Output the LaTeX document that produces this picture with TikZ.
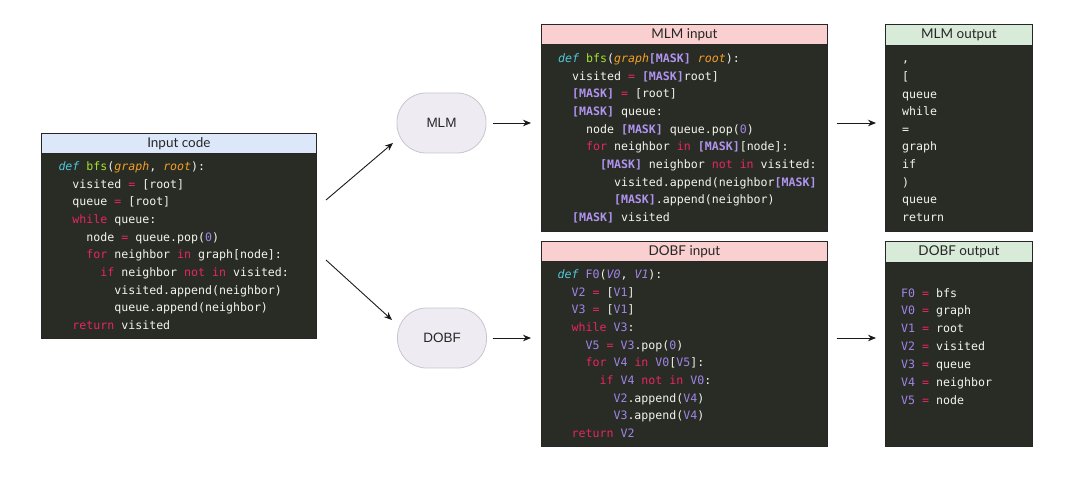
\documentclass[tikz,border=0pt]{standalone}
\usepackage{fontspec}
\setmainfont{Lato}
\setmonofont{DejaVu Sans Mono}
\newfontfamily\ellfont{Liberation Sans}
\usetikzlibrary{arrows.meta}

\definecolor{codebg}{HTML}{282C25}
\definecolor{codefg}{HTML}{F4F4EE}
\definecolor{kwred}{HTML}{E8265E}
\definecolor{fngreen}{HTML}{A6E22E}
\definecolor{argorange}{HTML}{F5A023}
\definecolor{defcyan}{HTML}{4FC8D8}
\definecolor{numpurple}{HTML}{A184E8}
\definecolor{maskpurple}{HTML}{B193F0}
\definecolor{hblue}{HTML}{DCE8FA}
\definecolor{hpink}{HTML}{F9CFCF}
\definecolor{hgreen}{HTML}{D8EAD8}
\definecolor{ellfill}{HTML}{EEEBF2}
\definecolor{elldraw}{HTML}{C9C5CE}

\newcommand{\cK}[1]{\textcolor{kwred}{#1}}
\newcommand{\cD}[1]{\textcolor{defcyan}{\itshape #1}}
\newcommand{\cF}[1]{\textcolor{fngreen}{#1}}
\newcommand{\cA}[1]{\textcolor{argorange}{\itshape #1}}
\newcommand{\cN}[1]{\textcolor{numpurple}{#1}}
\newcommand{\cNi}[1]{\textcolor{numpurple}{\itshape #1}}
\newcommand{\cM}[1]{\textcolor{maskpurple}{\bfseries #1}}

\tikzset{
  panel/.style={draw=black!85, line width=0.8pt, fill=codebg, inner sep=0pt, anchor=north west},
  hdr/.style={draw=black!85, line width=0.8pt, inner sep=0pt, anchor=north west, font=\fontsize{13.5}{14}\selectfont, text=black!85},
  code/.style={anchor=base west, inner sep=0pt, text=codefg, font=\ttfamily\fontsize{11.6}{12}\selectfont},
  model/.style={draw=elldraw, fill=ellfill, line width=0.8pt, rounded corners=29pt, minimum width=89pt, minimum height=60pt, inner sep=0pt, font=\ellfont\fontsize{13.5}{14}\selectfont, text=black!85},
  arr/.style={draw=black!90, line width=0.9pt, -{Stealth[length=8pt,width=6.5pt]}}
}

\begin{document}
\begin{tikzpicture}[x=1pt,y=-1pt]
\useasboundingbox (0,0) rectangle (1074,484);

% ---------- panels ----------
\node[panel, minimum width=275pt, minimum height=205pt] (inp) at (41,133) {};
\node[hdr, fill=hblue, minimum width=275pt, minimum height=20pt] (inph) at (41,133) {Input code};

\node[panel, minimum width=286pt, minimum height=207pt] (mlmin) at (541,24) {};
\node[hdr, fill=hpink, minimum width=286pt, minimum height=20pt] (mlminh) at (541,24) {MLM input};

\node[panel, minimum width=286pt, minimum height=205pt] (dobfin) at (541,241) {};
\node[hdr, fill=hpink, minimum width=286pt, minimum height=20pt] (dobfinh) at (541,241) {DOBF input};

\node[panel, minimum width=147pt, minimum height=207pt] (mlmout) at (885,24) {};
\node[hdr, fill=hgreen, minimum width=147pt, minimum height=21pt] (mlmouth) at (885,24) {MLM output};

\node[panel, minimum width=147pt, minimum height=205pt] (dobfout) at (885,241) {};
\node[hdr, fill=hgreen, minimum width=147pt, minimum height=21pt] (dobfouth) at (885,241) {DOBF output};

% ---------- model nodes ----------
\node[model] (mlm) at (441.5,123) {MLM};
\node[model] (dobf) at (442,338) {DOBF};

% ---------- input code ----------
\def\cw{6.98}
\node[code] (i0) at ({58.3+0*\cw},170.5) {\cD{def} \cF{bfs}(\cA{graph}, \cA{root}):};
\node[code] (i1) at ({58.3+2*\cw},188.2) {visited \cK{=} [root]};
\node[code] (i2) at ({58.3+2*\cw},205.8) {queue \cK{=} [root]};
\node[code] (i3) at ({58.3+2*\cw},223.5) {\cK{while} queue:};
\node[code] (i4) at ({58.3+4*\cw},241.2) {node \cK{=} queue.pop(\cN{0})};
\node[code] (i5) at ({58.3+4*\cw},258.8) {\cK{for} neighbor \cK{in} graph[node]:};
\node[code] (i6) at ({58.3+6*\cw},276.5) {\cK{if} neighbor \cK{not} \cK{in} visited:};
\node[code] (i7) at ({58.3+8*\cw},294.2) {visited.append(neighbor)};
\node[code] (i8) at ({58.3+8*\cw},311.8) {queue.append(neighbor)};
\node[code] (i9) at ({58.3+2*\cw},329.5) {\cK{return} visited};

% ---------- MLM input ----------
\node[code] (m0) at ({558+0*\cw},62.5) {\cD{def} \cF{bfs}(\cA{graph}\cM{[MASK]} \cA{root}):};
\node[code] (m1) at ({558+2*\cw},80.2) {visited \cK{=} \cM{[MASK]}root]};
\node[code] (m2) at ({558+2*\cw},97.8) {\cM{[MASK]} \cK{=} [root]};
\node[code] (m3) at ({558+2*\cw},115.5) {\cM{[MASK]} queue:};
\node[code] (m4) at ({558+4*\cw},133.2) {node \cM{[MASK]} queue.pop(\cN{0})};
\node[code] (m5) at ({558+4*\cw},150.8) {\cK{for} neighbor \cK{in} \cM{[MASK]}[node]:};
\node[code] (m6) at ({558+6*\cw},168.5) {\cM{[MASK]} neighbor \cK{not} \cK{in} visited:};
\node[code] (m7) at ({558+8*\cw},186.2) {visited.append(neighbor\cM{[MASK]}};
\node[code] (m8) at ({558+8*\cw},203.8) {\cM{[MASK]}.append(neighbor)};
\node[code] (m9) at ({558+2*\cw},221.5) {\cM{[MASK]} visited};

% ---------- DOBF input ----------
\node[code] (d0) at ({557.5+0*\cw},278.5) {\cD{def} \cN{F0}(\cNi{V0}, \cNi{V1}):};
\node[code] (d1) at ({557.5+2*\cw},296.2) {\cN{V2} \cK{=} [\cN{V1}]};
\node[code] (d2) at ({557.5+2*\cw},313.8) {\cN{V3} \cK{=} [\cN{V1}]};
\node[code] (d3) at ({557.5+2*\cw},331.5) {\cK{while} \cN{V3}:};
\node[code] (d4) at ({557.5+4*\cw},349.2) {\cN{V5} \cK{=} \cN{V3}.pop(\cN{0})};
\node[code] (d5) at ({557.5+4*\cw},366.8) {\cK{for} \cN{V4} \cK{in} \cN{V0}[\cN{V5}]:};
\node[code] (d6) at ({557.5+6*\cw},384.5) {\cK{if} \cN{V4} \cK{not} \cK{in} \cN{V0}:};
\node[code] (d7) at ({557.5+8*\cw},402.2) {\cN{V2}.append(\cN{V4})};
\node[code] (d8) at ({557.5+8*\cw},419.8) {\cN{V3}.append(\cN{V4})};
\node[code] (d9) at ({557.5+2*\cw},437.5) {\cK{return} \cN{V2}};

% ---------- MLM output ----------
\node[code] (o0) at (902,63.0) {,};
\node[code] (o1) at (902,80.6) {[};
\node[code] (o2) at (902,98.2) {queue};
\node[code] (o3) at (902,115.8) {while};
\node[code] (o4) at (902,133.4) {=};
\node[code] (o5) at (902,151.0) {graph};
\node[code] (o6) at (902,168.6) {if};
\node[code] (o7) at (902,186.2) {)};
\node[code] (o8) at (902,203.8) {queue};
\node[code] (o9) at (902,221.4) {return};

% ---------- DOBF output ----------
\node[code] (p0) at (901,297.0) {\cN{F0} \cK{=} bfs};
\node[code] (p1) at (901,314.9) {\cN{V0} \cK{=} graph};
\node[code] (p2) at (901,332.8) {\cN{V1} \cK{=} root};
\node[code] (p3) at (901,350.7) {\cN{V2} \cK{=} visited};
\node[code] (p4) at (901,368.6) {\cN{V3} \cK{=} queue};
\node[code] (p5) at (901,386.5) {\cN{V4} \cK{=} neighbor};
\node[code] (p6) at (901,404.4) {\cN{V5} \cK{=} node};

% ---------- connectors ----------
\coordinate (s1) at (326,200);
\coordinate (e1) at (393,143);
\coordinate (s2) at (326,260);
\coordinate (e2) at (392,320);
\draw[arr] (s1) -- (e1);
\draw[arr] (s2) -- (e2);
\draw[arr, shorten <=7pt, shorten >=10pt] (mlm.east) -- (mlm.east -| mlmin.west);
\draw[arr, shorten <=6pt, shorten >=10pt] (dobf.east) -- (dobf.east -| dobfin.west);
\draw[arr, shorten <=9pt, shorten >=9pt] (mlmin.east |- mlm.east) -- (mlmout.west |- mlm.east);
\draw[arr, shorten <=9pt, shorten >=9pt] (dobfin.east |- dobf.east) -- (dobfout.west |- dobf.east);
\end{tikzpicture}
\end{document}
